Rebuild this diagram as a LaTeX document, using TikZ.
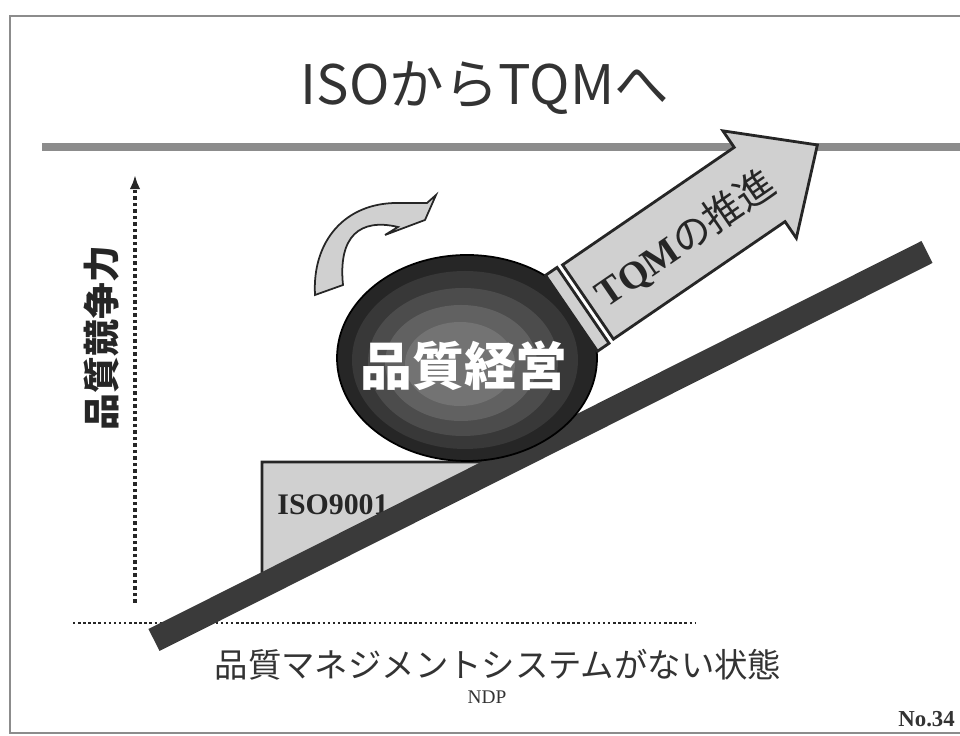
\documentclass[tikz,border=0pt]{standalone}
\usepackage{fontspec}
\setmainfont{Liberation Serif}
\newfontfamily\jpsans{Noto Sans CJK JP}
\usetikzlibrary{arrows.meta}

\definecolor{inkgray}{HTML}{333333}
\definecolor{edgedark}{HTML}{262626}
\definecolor{panelgray}{HTML}{D0D0D0}
\definecolor{bargray}{HTML}{8C8C8C}
\definecolor{rampdark}{HTML}{3A3A3A}

\tikzset{
	panel/.style={fill=panelgray, draw=edgedark, line width=1.6pt, line join=miter},
	dotline/.style={draw=edgedark, line width=1.6pt, dash pattern=on 1.4pt off 1.5pt},
	jptext/.style={font=\jpsans, text=inkgray, inner sep=0pt}
}

\begin{document}
\begin{tikzpicture}[x=0.02cm, y=0.02cm]
	\useasboundingbox (0,0) rectangle (960,736);

	%slide frame
	\draw[color=bargray, line width=0.8pt] (962,720) -- (10,720) -- (10,3) -- (962,3);

	%title and upper limit
	\node[jptext, font=\jpsans\fontsize{31}{31}\selectfont] (title) at (485,648) {ISOからTQMへ};
	\coordinate (limitL) at (42,589);
	\coordinate (limitR) at (962,589);
	\draw[color=bargray, line width=4.5pt] (limitL) -- (limitR);

	%vertical axis (dotted, pointing up)
	\coordinate (axisbot) at (135,133);
	\coordinate (axistop) at (135,561);
	\draw[dotline, line width=2.2pt, dash pattern=on 2.2pt off 1.5pt, -{Latex[length=8pt,width=6pt]}] (axisbot) -- (axistop);
	\node[jptext, text=edgedark, font=\jpsans\bfseries\fontsize{21}{21}\selectfont, rotate=90] (axislabel) at (102,398) {品質競争力};

	%baseline: no management system
	\coordinate (baseL) at (73,113);
	\coordinate (baseR) at (696,113);
	\draw[dotline] (baseL) -- (baseR);
	\node[jptext, font=\jpsans\fontsize{19}{19}\selectfont] (nosystem) at (498,71) {品質マネジメントシステムがない状態};

	%ISO9001 wedge under the ball
	\draw[panel] (262,274) -- (490,274) -- (262,158) -- cycle;
	\node[inner sep=0pt, text=edgedark, font=\bfseries\fontsize{17}{17}\selectfont] (iso) at (333,231) {ISO9001};

	%the slope
	\coordinate (rampLow) at (154,96);
	\coordinate (rampHigh) at (927,484);
	\draw[color=rampdark, line width=14pt] (rampLow) -- (rampHigh);

	%turning arrow over the ball
	\draw[fill=panelgray, draw=edgedark, line width=1pt, line join=miter]
		(315,441) .. controls (312,495) and (345,533) .. (397,533) -- (427,533) -- (436,541)
		-- (425,516) -- (385,501) -- (398,509) .. controls (360,518) and (338,500) .. (343,451) -- cycle;

	%the ball (quality management)
	\fill[color=edgedark] (467,378) ellipse [x radius=130, y radius=103];
	\fill[color=black!78] (465,376) ellipse [x radius=113, y radius=89];
	\fill[color=black!70] (463,374) ellipse [x radius=95, y radius=74];
	\fill[color=black!62] (461,373) ellipse [x radius=76, y radius=58];
	\fill[color=black!55] (460,372) ellipse [x radius=55, y radius=42];
	\draw[color=black, line width=1pt] (467,378) ellipse [x radius=130, y radius=103];
	\node[jptext, text=white, font=\jpsans\bfseries\fontsize{29.5}{29.5}\selectfont] (ball) at (464,370) {品質経営};

	%push arrow: TQM
	\begin{scope}[shift={(588,434)}, rotate=34.4]
		\draw[panel] (-20,-46) rectangle (-6,46);
		\draw[panel] (0,-45) -- (208,-45) -- (208,-65) -- (278,0) -- (208,65) -- (208,45) -- (0,45) -- cycle;
		\node[inner sep=0pt, text=edgedark, rotate=34.4, font=\bfseries\fontsize{22}{22}\selectfont] (push) at (116,-3) {TQM{\jpsans\mdseries の推進}};
	\end{scope}

	%footer
	\node[inner sep=0pt, text=inkgray, font=\fontsize{11}{11}\selectfont] (ndp) at (487,39) {NDP};
	\node[inner sep=0pt, anchor=west, text=inkgray, font=\bfseries\fontsize{13}{13}\selectfont] (pageno) at (898,17) {No.34};
\end{tikzpicture}
\end{document}
